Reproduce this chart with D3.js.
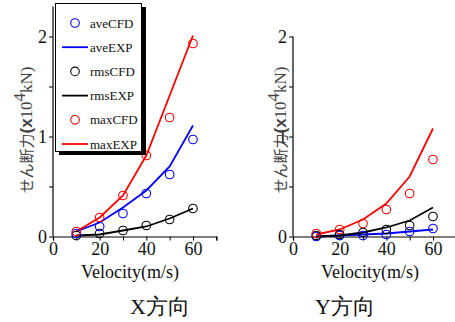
<!DOCTYPE html>
<html>
<head>
<meta charset="utf-8">
<script src="https://cdn.jsdelivr.net/npm/d3@7"></script>
<style>
body { margin: 0; background: #fff; }
text { font-family: "Liberation Serif", "Times New Roman", serif; }
</style>
</head>
<body>
<svg id="chart" width="455" height="322"></svg>
<script>
var velocity = [10, 20, 30, 40, 50, 60];

// X direction
var xAveCFD = [0.03, 0.10, 0.23, 0.43, 0.62, 0.97];
var xAveEXP = [0.05, 0.14, 0.29, 0.46, 0.70, 1.11];
var xRmsCFD = [0.01, 0.03, 0.06, 0.11, 0.17, 0.28];
var xRmsEXP = [0.01, 0.02, 0.06, 0.10, 0.18, 0.28];
var xMaxCFD = [0.05, 0.19, 0.41, 0.81, 1.19, 1.93];
var xMaxEXP = [0.05, 0.19, 0.41, 0.81, 1.41, 2.01];

// Y direction
var yAveCFD = [0.00, 0.01, 0.01, 0.02, 0.05, 0.08];
var yAveEXP = [0.00, 0.01, 0.02, 0.03, 0.05, 0.07];
var yRmsCFD = [0.01, 0.02, 0.04, 0.07, 0.11, 0.20];
var yRmsEXP = [0.00, 0.01, 0.04, 0.09, 0.16, 0.29];
var yMaxCFD = [0.03, 0.07, 0.13, 0.27, 0.43, 0.77];
var yMaxEXP = [0.02, 0.07, 0.17, 0.33, 0.60, 1.08];

var xTicks = [0, 20, 40, 60];
var yTicks = [0, 1, 2];
var legendNames = ["aveCFD", "aveEXP", "rmsCFD", "rmsEXP", "maxCFD", "maxEXP"];
var colors = { ave: "#0000ff", rms: "#000000", max: "#ff0000" };

var svg = d3.select("#chart");
var serif = "'Liberation Serif', 'Times New Roman', serif";

function drawPanel(opts) {
    var g = svg.append("g");
    var x = d3.scaleLinear().domain([0, 70]).range([opts.left, opts.left + 163.3]);
    var y = d3.scaleLinear().domain([0, opts.yMax]).range([236.5, 236.5 - 100 * opts.yMax]);

    // x axis
    g.append("g")
        .attr("transform", "translate(0,236.5)")
        .call(d3.axisBottom(x).tickValues(d3.range(0, 71, 10)).tickSize(4).tickFormat(""))
        .call(function(a) { a.select(".domain").attr("stroke-width", 1.2); });
    g.append("g")
        .attr("transform", "translate(0,236.5)")
        .call(d3.axisBottom(x).tickValues(xTicks).tickSize(0).tickPadding(5).tickFormat(d3.format("d")))
        .call(function(a) {
            a.select(".domain").remove();
            a.attr("font-family", serif);
            a.selectAll("text").attr("font-size", 18).attr("fill", "#111").attr("dy", "0.75em");
        });

    // y axis
    g.append("g")
        .attr("transform", "translate(" + opts.left + ",0)")
        .call(d3.axisLeft(y).tickValues(d3.range(0, opts.yMax + 0.01, 0.5)).tickSize(4).tickFormat(""))
        .call(function(a) { a.select(".domain").attr("stroke-width", 1.2).attr("d", "M0," + y(opts.yMax) + "V236.5"); });
    g.append("g")
        .attr("transform", "translate(" + opts.left + ",0)")
        .call(d3.axisLeft(y).tickValues(yTicks).tickSize(0).tickPadding(6).tickFormat(d3.format("d")))
        .call(function(a) {
            a.select(".domain").remove();
            a.attr("font-family", serif);
            a.selectAll("text").attr("font-size", 18).attr("fill", "#111");
        });

    // axis titles
    g.append("text")
        .attr("x", opts.left + 77).attr("y", 278)
        .attr("text-anchor", "middle").attr("font-size", 18).attr("fill", "#111")
        .text("Velocity(m/s)");

    var yl = g.append("text")
        .attr("transform", "translate(" + opts.ylabelX + ",130) rotate(-90)")
        .attr("text-anchor", "middle").attr("font-size", 17).attr("fill", "#444");
    yl.append("tspan").attr("font-family", "'Noto Sans CJK JP'").attr("font-size", 15).text("せん断力");
    yl.append("tspan").attr("font-family", "'Liberation Sans'").attr("font-weight", "bold").text("(x");
    yl.append("tspan").text("10");
    yl.append("tspan").attr("dy", -7).text("4");
    yl.append("tspan").attr("dy", 7).text("kN)");

    g.append("text")
        .attr("x", opts.titleX).attr("y", 314)
        .attr("text-anchor", "middle").attr("font-size", 22).attr("fill", "#111")
        .text(opts.title);

    var line = d3.line()
        .x(function(d) { return x(d[0]); })
        .y(function(d) { return y(d[1]); });

    opts.series.forEach(function(s) {
        var pts = velocity.map(function(v, i) { return [v, s.values[i]]; });
        if (s.kind === "line") {
            g.append("path").datum(pts)
                .attr("d", line).attr("fill", "none")
                .attr("stroke", s.color).attr("stroke-width", 1.8);
        } else {
            g.selectAll(null).data(pts).enter().append("circle")
                .attr("cx", function(d) { return x(d[0]); })
                .attr("cy", function(d) { return y(d[1]); })
                .attr("r", 4.3).attr("fill", "none")
                .attr("stroke", s.color).attr("stroke-width", 1.1);
        }
    });
}

drawPanel({
    left: 53, yMax: 2.3, ylabelX: 32, title: "X方向", titleX: 160,
    series: [
        { kind: "line", color: colors.rms, values: xRmsEXP },
        { kind: "line", color: colors.ave, values: xAveEXP },
        { kind: "line", color: colors.max, values: xMaxEXP },
        { kind: "dot", color: colors.rms, values: xRmsCFD },
        { kind: "dot", color: colors.ave, values: xAveCFD },
        { kind: "dot", color: colors.max, values: xMaxCFD }
    ]
});

drawPanel({
    left: 293, yMax: 2, ylabelX: 286, title: "Y方向", titleX: 345,
    series: [
        { kind: "line", color: colors.ave, values: yAveEXP },
        { kind: "line", color: colors.rms, values: yRmsEXP },
        { kind: "line", color: colors.max, values: yMaxEXP },
        { kind: "dot", color: colors.ave, values: yAveCFD },
        { kind: "dot", color: colors.rms, values: yRmsCFD },
        { kind: "dot", color: colors.max, values: yMaxCFD }
    ]
});

// legend
var lg = svg.append("g");
lg.append("rect").attr("x", 59).attr("y", 7).attr("width", 87).attr("height", 148).attr("fill", "#000");
lg.append("rect").attr("x", 55.5).attr("y", 3.5).attr("width", 86).attr("height", 148)
    .attr("fill", "#fff").attr("stroke", "#000").attr("stroke-width", 1);
var ly = d3.scalePoint().domain(legendNames).range([23, 144]);
legendNames.forEach(function(name) {
    var c = colors[name.slice(0, 3)];
    var cy = ly(name);
    if (name.indexOf("CFD") >= 0) {
        lg.append("circle").attr("cx", 75).attr("cy", cy).attr("r", 4.3)
            .attr("fill", "none").attr("stroke", c).attr("stroke-width", 1.1);
    } else {
        lg.append("line").attr("x1", 62).attr("x2", 88).attr("y1", cy).attr("y2", cy)
            .attr("stroke", c).attr("stroke-width", 1.8);
    }
    lg.append("text").attr("x", 90).attr("y", cy + 4.5)
        .attr("font-size", 13).attr("fill", "#111").text(name);
});
</script>
</body>
</html>
